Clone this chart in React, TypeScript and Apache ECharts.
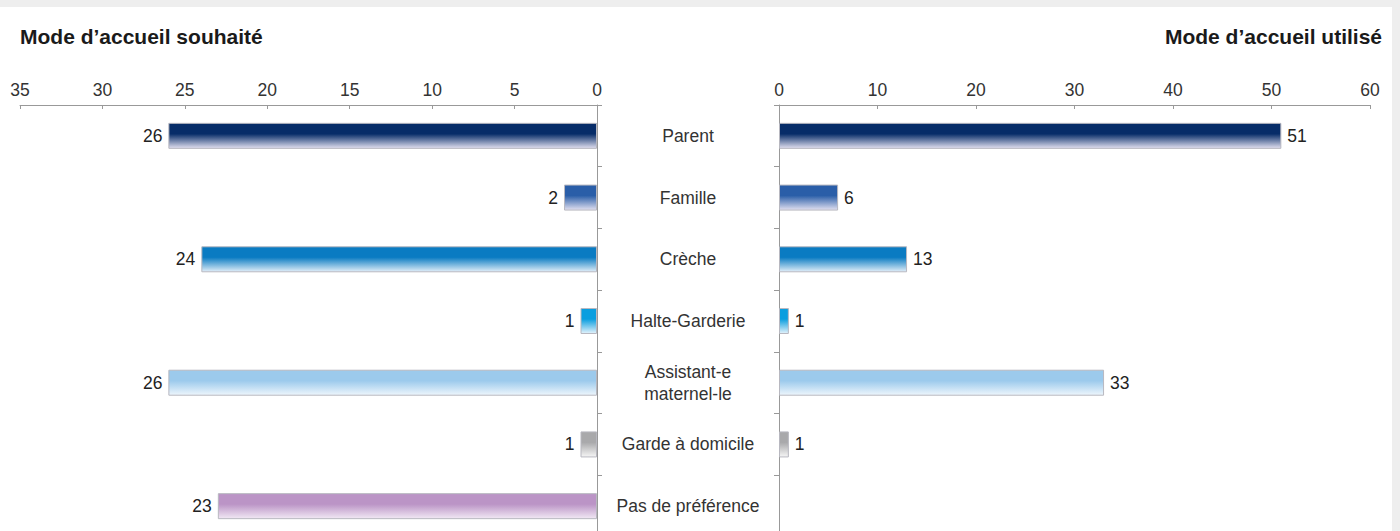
import React, { useEffect, useRef } from "react";
import * as echarts from "echarts";

const categories = ["Parent", "Famille", "Crèche", "Halte-Garderie", "Assistant-e\nmaternel-le", "Garde à domicile", "Pas de préférence"];
const souhaite = [26, 2, 24, 1, 26, 1, 23];
const utilise: (number | null)[] = [51, 6, 13, 1, 33, 1, null];
const barColors = ["#062c68", "#2a5ea8", "#0a7bc2", "#0a9edf", "#9ccaec", "#a9a9ab", "#bb94c6"];
const fadeColors = ["#e2e0f0", "#e2e0f0", "#e2eef8", "#e4f2fb", "#eef6fc", "#f6f6f6", "#f1e8f4"];
const leftTicks = { min: 0, max: 35, interval: 5 };
const rightTicks = { min: 0, max: 60, interval: 10 };

const FONT = "'Liberation Sans', Arial, sans-serif";

function grad(i: number) {
  return new echarts.graphic.LinearGradient(0, 0, 0, 1, [
    { offset: 0, color: barColors[i] },
    { offset: 0.42, color: barColors[i] },
    { offset: 1, color: fadeColors[i] },
  ]);
}

export default function App() {
  const ref = useRef<HTMLDivElement>(null);
  useEffect(() => {
    const chart = echarts.init(ref.current!, null, { renderer: "svg" });
    const axisLabelStyle = { color: "#333", fontSize: 17.5, fontFamily: FONT };
    const gridTop = 105;
    const gridH = 432;
    chart.setOption({
      animation: false,
      backgroundColor: "#eeeeee",
      textStyle: { fontFamily: FONT },
      graphic: [
        { type: "rect", z: -10, shape: { x: 0, y: 7, width: 1392, height: 545 }, style: { fill: "#ffffff" } },
      ],
      title: [
        { text: "Mode d’accueil souhaité", left: 20, top: 26, padding: 0, textStyle: { fontSize: 21, fontWeight: "bold", color: "#1a1a1a", fontFamily: FONT } },
        { text: "Mode d’accueil utilisé", right: 18, top: 26, padding: 0, textStyle: { fontSize: 21, fontWeight: "bold", color: "#1a1a1a", fontFamily: FONT } },
      ],
      grid: [
        { left: 20, width: 577, top: gridTop, height: gridH },
        { left: 779, width: 591, top: gridTop, height: gridH },
      ],
      xAxis: [
        {
          type: "value", gridIndex: 0, position: "top", inverse: true,
          min: leftTicks.min, max: leftTicks.max, interval: leftTicks.interval,
          axisLine: { show: true, lineStyle: { color: "#999" } },
          axisTick: { show: true, inside: true, length: 4, lineStyle: { color: "#999" } },
          axisLabel: { ...axisLabelStyle, margin: 6 },
          splitLine: { show: false },
        },
        {
          type: "value", gridIndex: 1, position: "top",
          min: rightTicks.min, max: rightTicks.max, interval: rightTicks.interval,
          axisLine: { show: true, lineStyle: { color: "#999" } },
          axisTick: { show: true, inside: true, length: 4, lineStyle: { color: "#999" } },
          axisLabel: { ...axisLabelStyle, margin: 6 },
          splitLine: { show: false },
        },
      ],
      yAxis: [
        {
          type: "category", gridIndex: 0, position: "right", inverse: true, data: categories,
          axisLine: { show: true, lineStyle: { color: "#999" } },
          axisTick: { show: true, length: 5, lineStyle: { color: "#999" } },
          axisLabel: { ...axisLabelStyle, align: "center", margin: 91, lineHeight: 22, padding: [4, 0, 0, 0] },
        },
        {
          type: "category", gridIndex: 1, position: "left", inverse: true, data: categories,
          axisLine: { show: true, lineStyle: { color: "#999" } },
          axisTick: { show: true, length: 5, lineStyle: { color: "#999" } },
          axisLabel: { show: false },
        },
      ],
      series: [
        {
          type: "bar", xAxisIndex: 0, yAxisIndex: 0, barWidth: 26,
          data: souhaite.map((v, i) => ({ value: v, itemStyle: { color: grad(i), borderColor: "#b8b8c0", borderWidth: 1 } })),
          label: { show: true, position: "left", distance: 6, color: "#222", fontSize: 17.5, fontFamily: FONT },
        },
        {
          type: "bar", xAxisIndex: 1, yAxisIndex: 1, barWidth: 26,
          data: utilise.map((v, i) => ({ value: v, itemStyle: { color: grad(i), borderColor: "#b8b8c0", borderWidth: 1 } })),
          label: { show: true, position: "right", distance: 6, color: "#222", fontSize: 17.5, fontFamily: FONT },
        },
      ],
    });
    return () => chart.dispose();
  }, []);
  return (
    <div style={{ position: "fixed", left: 0, top: 0, width: 1400, height: 531, overflow: "hidden" }}>
      <div ref={ref} style={{ width: 1400, height: 545 }} />
    </div>
  );
}
